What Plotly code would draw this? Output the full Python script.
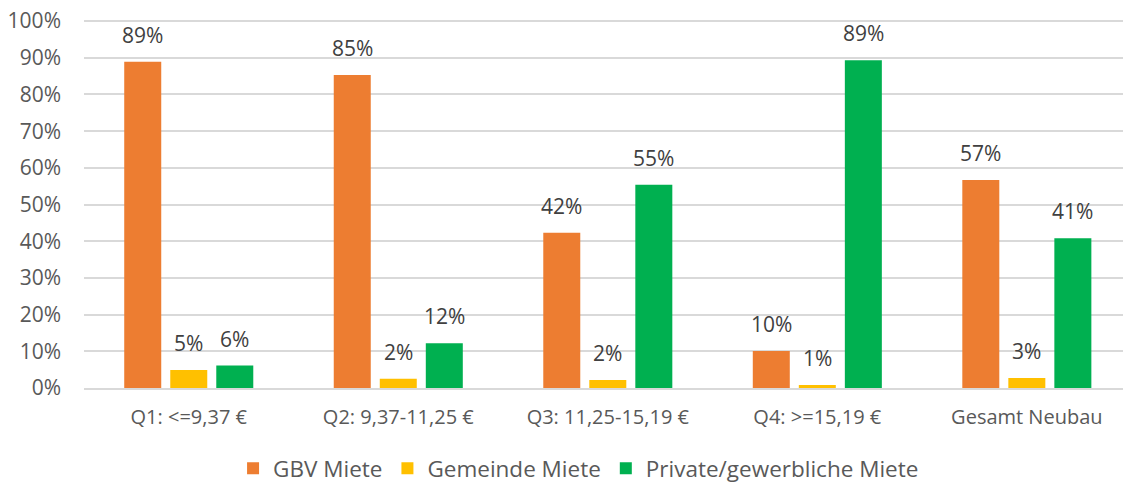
import plotly.graph_objects as go

categories = ["Q1: <=9,37 €", "Q2: 9,37-11,25 €", "Q3: 11,25-15,19 €", "Q4: >=15,19 €", "Gesamt Neubau"]
gbv = [0.889, 0.853, 0.423, 0.101, 0.567]
gemeinde = [0.049, 0.025, 0.022, 0.008, 0.027]
private = [0.061, 0.122, 0.554, 0.893, 0.408]
series_names = ["GBV Miete", "Gemeinde Miete", "Private/gewerbliche Miete"]
colors = ["#ED7D31", "#FFC000", "#00B050"]
y_ticks = [i / 10 for i in range(11)]

FONT = "Open Sans"
fig = go.Figure()
series = [gbv, gemeinde, private]
for name, vals, col in zip(series_names, series, colors):
    fig.add_trace(go.Bar(x=categories, y=vals, name=name, marker=dict(color=col, line=dict(width=0))))

offsets = [-46, 0, 46]
for vals, off in zip(series, offsets):
    for c, v in zip(categories, vals):
        fig.add_annotation(x=c, y=v, text=f"{round(v*100):.0f}%", showarrow=False,
                           xshift=off, yshift=11, yanchor="bottom",
                           font=dict(family=FONT, size=21, color="#404040"))

fig.update_layout(
    width=1123, height=484,
    margin=dict(l=84, r=0, t=20, b=96, autoexpand=False),
    plot_bgcolor="white", paper_bgcolor="white",
    barmode="group", bargap=0.341, bargroupgap=0.196,
    font=dict(family=FONT, size=20, color="#595959"),
    showlegend=True,
    legend=dict(orientation="h", x=0.476, xanchor="center", y=-0.161, yanchor="top",
                font=dict(family=FONT, size=22.5, color="#595959"), itemwidth=30,
                traceorder="normal"),
    xaxis=dict(range=[-0.5, 4.459], showgrid=False, showline=True, linecolor="#D9D9D9",
               linewidth=2, ticks="", ticklabelstandoff=10,
               tickfont=dict(family=FONT, size=20, color="#595959")),
    yaxis=dict(range=[0, 1.003], tickvals=y_ticks, tickformat=".0%", showgrid=True,
               gridcolor="#D9D9D9", gridwidth=2, zeroline=False, showline=False,
               ticks="", ticklabelstandoff=22, ticklabeloverflow="allow",
               tickfont=dict(family=FONT, size=21, color="#595959")),
)
fig.write_html("out.html", config={"displayModeBar": False},
               post_script="document.body.style.margin='0px';")
